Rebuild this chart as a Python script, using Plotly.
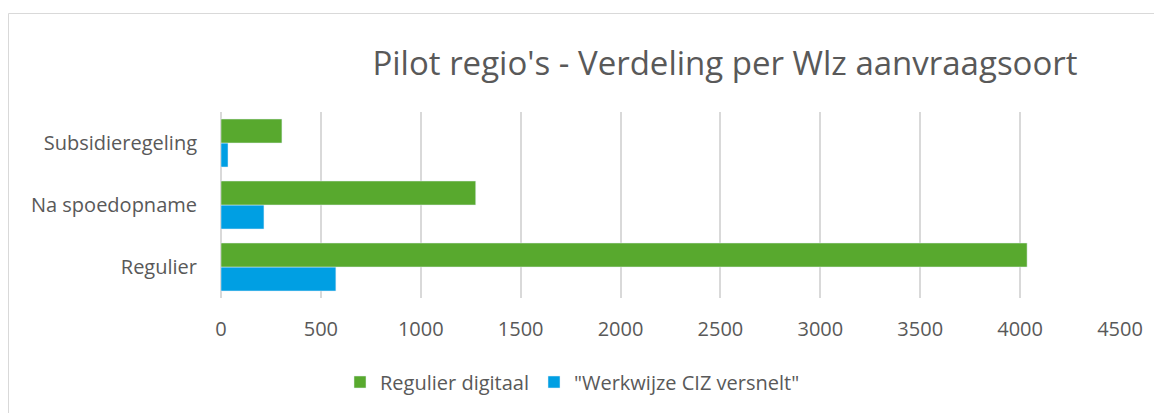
import plotly.graph_objects as go

categories = ["Regulier", "Na spoedopname", "Subsidieregeling"]
regulier_digitaal = [4035, 1275, 305]
werkwijze_ciz = [575, 215, 35]
x_ticks = [0, 500, 1000, 1500, 2000, 2500, 3000, 3500, 4000, 4500]

# the page body adds an 8px offset; work in page pixels and subtract it
OFF = 8
W, H = 1162, 413
ml, mr, mt, mb = 221 - OFF, 1162 - (1120 - OFF), 112 - OFF, 413 - (298 - OFF)
pw, ph = W - ml - mr, H - mt - mb

def px_x(p):
    return (p - OFF - ml) / pw

def px_y(p):
    return (H - mb - (p - OFF)) / ph

font = "Open Sans"
grey = "#595959"

fig = go.Figure()
fig.add_trace(go.Bar(
    y=categories, x=werkwijze_ciz, orientation="h",
    name='"Werkwijze CIZ versnelt"', marker_color="#009fe3", legendrank=2,
))
fig.add_trace(go.Bar(
    y=categories, x=regulier_digitaal, orientation="h",
    name="Regulier digitaal", marker_color="#58a92e", legendrank=1,
))

fig.update_layout(
    width=W, height=H,
    margin=dict(l=ml, r=mr, t=mt, b=mb),
    paper_bgcolor="white", plot_bgcolor="white",
    barmode="group", bargap=0.226, bargroupgap=0,
    font=dict(family=font, color=grey, size=20),
    title=dict(text="Pilot regio's - Verdeling per Wlz aanvraagsoort",
               x=(725 - OFF) / W, xref="container", xanchor="center",
               y=1 - (63 - OFF) / H, yref="container", yanchor="middle",
               font=dict(size=33, color=grey, family=font)),
    xaxis=dict(range=[0, 4500], tickvals=x_ticks, showgrid=True,
               gridcolor="#d9d9d9", gridwidth=1.5, zeroline=True,
               zerolinecolor="#d9d9d9", zerolinewidth=1.5,
               showline=False, ticks="", ticklabelstandoff=17,
               tickfont=dict(size=20, color=grey)),
    yaxis=dict(showgrid=False, showline=False, ticks="",
               ticklabelstandoff=23, tickfont=dict(size=20, color=grey)),
    legend=dict(orientation="h", x=px_x(340), xanchor="left",
                y=px_y(382), yanchor="middle",
                font=dict(size=20, color=grey), itemwidth=30,
                traceorder="normal"),
    showlegend=True,
    shapes=[dict(type="rect", xref="paper", yref="paper",
                 x0=px_x(8.5), x1=px_x(1180), y0=px_y(13.5), y1=px_y(440),
                 line=dict(color="#d9d9d9", width=1), layer="below")],
)

fig.write_html("out.html")
